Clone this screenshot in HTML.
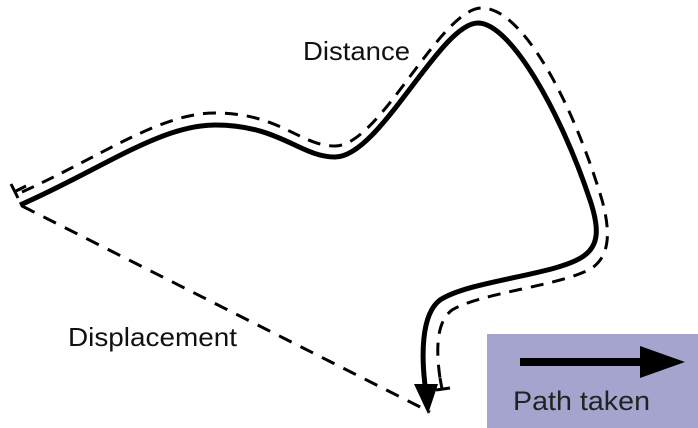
<!DOCTYPE html>
<html><head><style>
body{margin:0;background:#fff;}
svg{display:block}
text{font-family:"Liberation Sans",sans-serif;}
</style></head><body>
<svg width="698" height="428" viewBox="0 0 698 428" xmlns="http://www.w3.org/2000/svg">
<rect x="487" y="334" width="211" height="94" fill="#a4a4cf"/>
<line x1="520" y1="362" x2="655" y2="362" stroke="#000" stroke-width="8"/>
<polygon points="640,346 685,362 640,378" fill="#000"/>
<text x="513" y="410" font-size="27" fill="#222" textLength="137" lengthAdjust="spacingAndGlyphs">Path taken</text>
<text x="303" y="60" font-size="26" fill="#111" textLength="107" lengthAdjust="spacingAndGlyphs">Distance</text>
<text x="68" y="346" font-size="26" fill="#111" textLength="169" lengthAdjust="spacingAndGlyphs">Displacement</text>
<line x1="22" y1="206" x2="430" y2="412" stroke="#000" stroke-width="3" stroke-dasharray="14,10"/>
<path d="M20,205 C 100,170 160,125 215,125 C 280,125 300,157 335,157 C 380,157 440,23 478,23 C 510,23 560,110 590,200 C 600,230 598,245 585,255 C 560,275 470,280 440,300 C 420,315 422,360 425,385" fill="none" stroke="#000" stroke-width="5"/>
<polygon points="414,384 438,384 428,414" fill="#000"/>
<path d="M22,192 C 100,157 160,113 215,113 C 280,113 300,146 335,146 C 380,146 440,8 482,8 C 522,8 572,100 602,200 C 613,240 606,258 592,268 C 562,286 482,292 452,310 C 436,322 436,350 440,378" fill="none" stroke="#000" stroke-width="3" stroke-dasharray="13,9"/>
<line x1="11" y1="184" x2="18" y2="198" stroke="#000" stroke-width="3"/>
<line x1="16" y1="191" x2="26" y2="186" stroke="#000" stroke-width="3"/>
<line x1="440" y1="378" x2="442" y2="389" stroke="#000" stroke-width="3"/>
<line x1="436" y1="390" x2="450" y2="388" stroke="#000" stroke-width="3"/>
</svg>
</body></html>
